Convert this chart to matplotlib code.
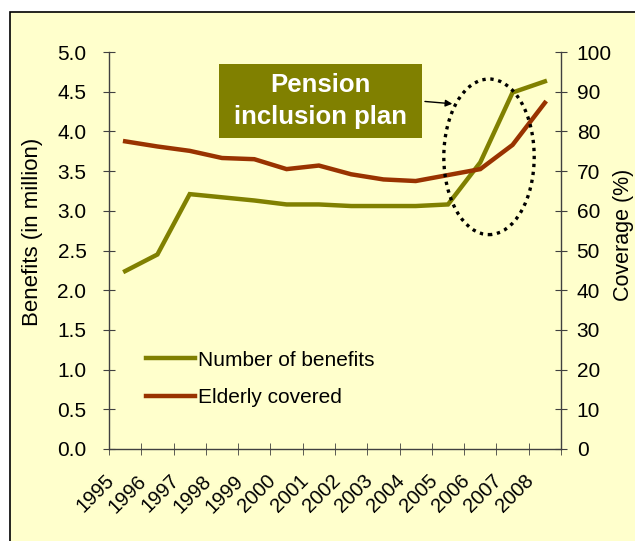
import matplotlib
matplotlib.use("Agg")
import matplotlib.pyplot as plt
from matplotlib.patches import Rectangle, Ellipse
from matplotlib.ticker import MultipleLocator, FormatStrFormatter
from matplotlib.transforms import ScaledTranslation
import numpy as np

plt.rcParams['font.family'] = ['Liberation Sans', 'DejaVu Sans']

# data
years = ['1995', '1996', '1997', '1998', '1999', '2000', '2001',
         '2002', '2003', '2004', '2005', '2006', '2007', '2008']
benefits = [2.24, 2.45, 3.21, 3.17, 3.13, 3.08, 3.08,
            3.06, 3.06, 3.06, 3.08, 3.61, 4.49, 4.63]   # million
coverage = [77.5, 76.2, 75.1, 73.3, 73.0, 70.5, 71.4,
            69.2, 67.9, 67.5, 69.0, 70.5, 76.6, 87.2]   # percent

green = '#808000'
red = '#993300'
bg = '#FFFFCC'
axis_col = '#404040'

fig = plt.figure(figsize=(6.35, 5.41), dpi=100)
fig.patch.set_facecolor('white')
# yellow frame around the chart
fig.patches.append(Rectangle((10/635, -0.05), 1.1, 1 - 12/541 + 0.05,
                             transform=fig.transFigure, facecolor=bg,
                             edgecolor='black', linewidth=1.2, zorder=-5))

ax = fig.add_axes([109/635, 1 - 449/541, 452/635, 397/541])
ax.set_facecolor('none')
ax2 = ax.twinx()

x = np.arange(len(years))
ax.plot(x, benefits, color=green, lw=3.2, label='Number of benefits',
        solid_joinstyle='miter')
ax2.plot(x, coverage, color=red, lw=3.2, label='Elderly covered',
         solid_joinstyle='miter')

ax.set_xlim(-0.5, len(years) - 0.5)
ax.set_ylim(0, 5)
ax2.set_ylim(0, 100)
ax.yaxis.set_major_locator(MultipleLocator(0.5))
ax.yaxis.set_major_formatter(FormatStrFormatter('%.1f'))
ax2.yaxis.set_major_locator(MultipleLocator(10))

ax.set_xticks(x)
ax.set_xticklabels(years, rotation=45, ha='right')
ax.set_xticks(np.arange(-0.5, len(years)), minor=True)
ax.tick_params(axis='x', which='major', length=0, pad=16, labelsize=14.5)
ax.tick_params(axis='x', which='minor', direction='inout', length=8.5,
               color=axis_col)
ax.tick_params(axis='y', direction='inout', length=8.5, pad=12,
               labelsize=15, color=axis_col)
ax2.tick_params(axis='y', direction='inout', length=8.5, pad=7,
                labelsize=15, color=axis_col)
# year labels end a little left of the category centre
shift = ScaledTranslation(-7/100, 0, fig.dpi_scale_trans)
for lab in ax.get_xticklabels():
    lab.set_transform(lab.get_transform() + shift)

for a in (ax, ax2):
    a.spines['top'].set_visible(False)
    for s in ('left', 'right', 'bottom'):
        a.spines[s].set_color(axis_col)
        a.spines[s].set_linewidth(1.0)
ax.spines['right'].set_visible(False)
ax2.spines['left'].set_visible(False)
ax2.spines['bottom'].set_visible(False)

fig.text(33/635, 1 - 232/541, 'Benefits (in million)', rotation=90,
         ha='center', va='center', fontsize=16)
fig.text(624/635, 1 - 235/541, 'Coverage (%)', rotation=90,
         ha='center', va='center', fontsize=15.5)

# legend
h1, l1 = ax.get_legend_handles_labels()
h2, l2 = ax2.get_legend_handles_labels()
ax2.legend(h1 + h2, l1 + l2, loc='upper left', frameon=False, fontsize=15,
           handlelength=2.35, handletextpad=0.15, labelspacing=0.9,
           bbox_to_anchor=(0.04, 0.295))

# annotation box and circled region
ax.add_patch(Rectangle((0.243, 0.783), 0.449, 0.187, transform=ax.transAxes,
                       facecolor=green, edgecolor='none', zorder=4))
ax.text(0.4675, 0.8765, 'Pension\ninclusion plan', transform=ax.transAxes,
        ha='center', va='center', color='white', fontsize=18.5,
        fontweight='bold', linespacing=1.4, zorder=5)
ax2.add_patch(Ellipse((11.27, 73.6), 2.8, 39.2, facecolor='none',
                      edgecolor='black', linestyle=(0, (1, 1.4)), lw=2.4,
                      zorder=6))
ax2.annotate('', xy=(10.22, 86.9), xytext=(9.2, 87.6),
             arrowprops=dict(arrowstyle='-|>', color='black', lw=1,
                             mutation_scale=10), zorder=6)

fig.savefig('out.png', dpi=100, facecolor=fig.get_facecolor())
